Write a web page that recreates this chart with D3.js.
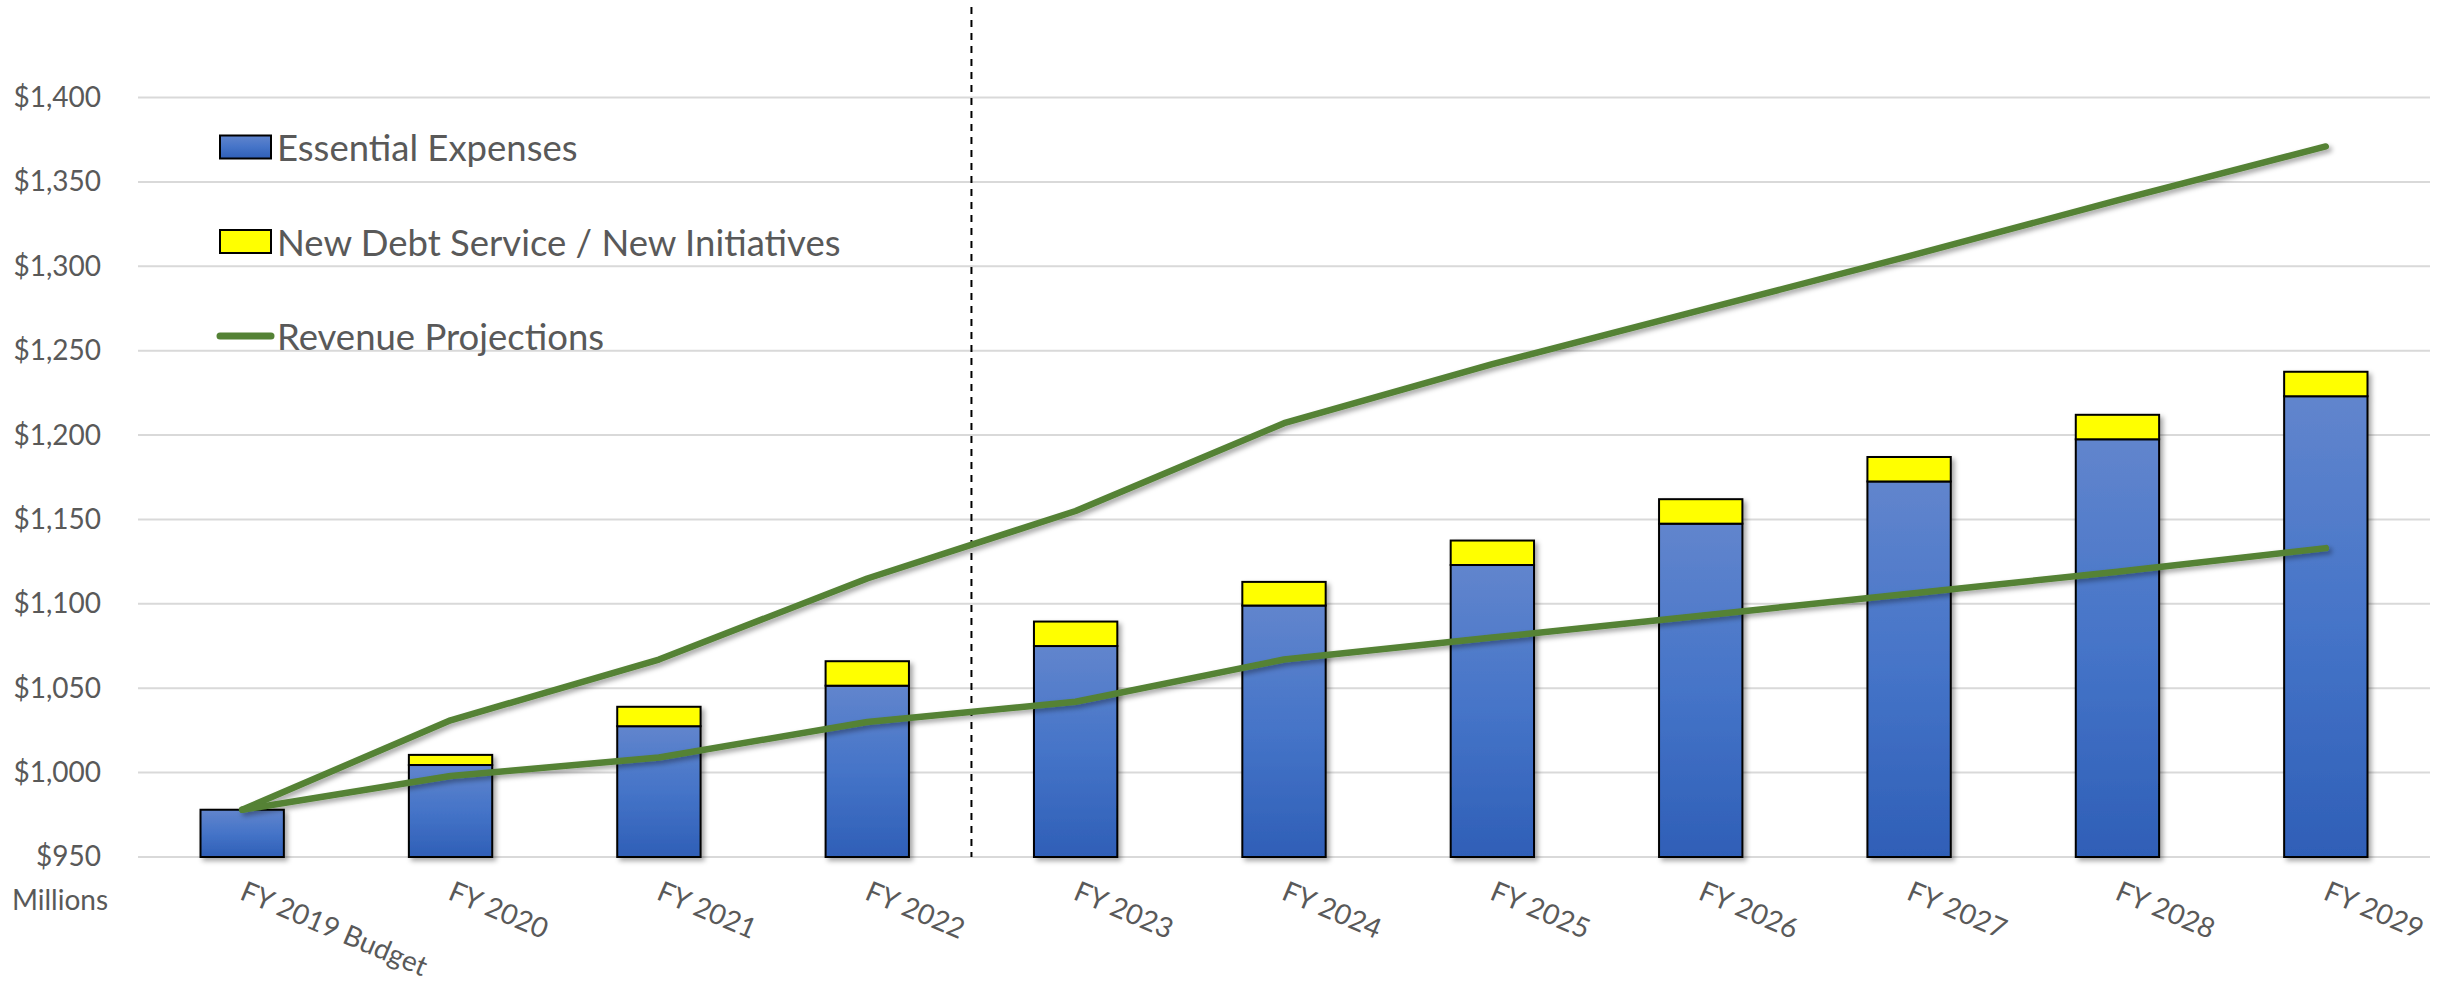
<!DOCTYPE html>
<html>
<head>
<meta charset="utf-8">
<script src="https://cdn.jsdelivr.net/npm/d3@7"></script>
<style>
  html, body { margin: 0; padding: 0; background: #ffffff; }
  svg { display: block; }
  text { font-family: Lato, "Open Sans", sans-serif; fill: #595959; }
</style>
</head>
<body>
<svg id="chart" width="2446" height="984"></svg>
<script>
// Fiscal years shown on the x axis
const categories = ["FY 2019 Budget", "FY 2020", "FY 2021", "FY 2022", "FY 2023", "FY 2024",
                    "FY 2025", "FY 2026", "FY 2027", "FY 2028", "FY 2029"];

// Stacked expense components ($ millions)
const essentialExpenses = [978, 1004.5, 1027.5, 1051.5, 1075, 1099, 1123, 1147.5, 1172.5, 1197.5, 1223];
const newDebtInitiatives = [0, 6, 11.5, 14.5, 14.5, 14, 14.5, 14.5, 14.5, 14.5, 14.5];

// Two revenue projection scenarios ($ millions)
const revenueHigh = [978, 1031, 1067, 1115, 1155, 1207, 1242, 1274, 1306, 1339, 1371];
const revenueBase = [978, 998, 1009, 1030, 1042, 1067, 1080, 1093, 1106, 1119, 1133];

// Y axis ticks
const yTicks = [950, 1000, 1050, 1100, 1150, 1200, 1250, 1300, 1350, 1400];

// Legend entries
const legendLabels = ["Essential Expenses", "New Debt Service / New Initiatives", "Revenue Projections"];

// The dashed divider sits between the last actual year and the first forecast year
const dividerAfter = "FY 2022";

const svg = d3.select("#chart");
const plot = { left: 138, right: 2430, top: 97.5, bottom: 857 };

const x = d3.scaleBand()
  .domain(categories)
  .range([plot.left, plot.right])
  .paddingInner(0.6)
  .paddingOuter(0.3);

const y = d3.scaleLinear()
  .domain([950, 1400])
  .range([plot.bottom, plot.top]);

const defs = svg.append("defs");

const grad = defs.append("linearGradient")
  .attr("id", "blueFill")
  .attr("x1", 0).attr("y1", 0).attr("x2", 0).attr("y2", 1);
grad.append("stop").attr("offset", "0%").attr("stop-color", "#6185cd");
grad.append("stop").attr("offset", "50%").attr("stop-color", "#4574c8");
grad.append("stop").attr("offset", "100%").attr("stop-color", "#2f5fb7");

const shadow = defs.append("filter")
  .attr("id", "shadow")
  .attr("x", "-20%").attr("y", "-20%").attr("width", "150%").attr("height", "150%");
shadow.append("feDropShadow")
  .attr("dx", 3).attr("dy", 3).attr("stdDeviation", 2.5)
  .attr("flood-color", "#000").attr("flood-opacity", 0.35);

// Horizontal gridlines
svg.append("g")
  .selectAll("line")
  .data(yTicks)
  .join("line")
  .attr("x1", plot.left).attr("x2", plot.right)
  .attr("y1", d => y(d)).attr("y2", d => y(d))
  .attr("stroke", "#d9d9d9")
  .attr("stroke-width", 2);

// Y axis labels
const yAxis = d3.axisLeft(y)
  .tickValues(yTicks)
  .tickSize(0)
  .tickPadding(0)
  .tickFormat(d => "$" + d3.format(",")(d));
const yAxisG = svg.append("g")
  .attr("transform", `translate(101,0)`)
  .call(yAxis);
yAxisG.select(".domain").remove();
yAxisG.selectAll("text")
  .attr("font-size", 28)
  .attr("font-family", "Lato, sans-serif")
  .attr("fill", "#595959");

svg.append("text")
  .attr("x", 12)
  .attr("y", 910)
  .attr("font-size", 28)
  .text("Millions");

// X axis labels, slanted
const xAxis = d3.axisBottom(x).tickSize(0).tickPadding(0);
const xAxisG = svg.append("g")
  .attr("transform", `translate(0,${plot.bottom})`)
  .call(xAxis);
xAxisG.select(".domain").remove();
xAxisG.selectAll(".tick text")
  .attr("font-size", 28)
  .attr("font-family", "Lato, sans-serif")
  .attr("fill", "#595959")
  .attr("text-anchor", "start")
  .attr("dominant-baseline", "hanging")
  .attr("dy", null)
  .attr("y", 0)
  .attr("transform", "translate(5,21) rotate(23)");

// Stacked bars
const bars = svg.append("g").attr("filter", "url(#shadow)");
const rows = categories.map((c, i) => ({
  cat: c,
  ess: essentialExpenses[i],
  debt: newDebtInitiatives[i]
}));

bars.selectAll("rect.ess")
  .data(rows)
  .join("rect")
  .attr("class", "ess")
  .attr("x", d => x(d.cat))
  .attr("width", x.bandwidth())
  .attr("y", d => y(d.ess))
  .attr("height", d => y(950) - y(d.ess))
  .attr("fill", "url(#blueFill)")
  .attr("stroke", "#000")
  .attr("stroke-width", 2);

bars.selectAll("rect.debt")
  .data(rows.filter(d => d.debt > 0))
  .join("rect")
  .attr("class", "debt")
  .attr("x", d => x(d.cat))
  .attr("width", x.bandwidth())
  .attr("y", d => y(d.ess + d.debt))
  .attr("height", d => y(d.ess) - y(d.ess + d.debt))
  .attr("fill", "#ffff00")
  .attr("stroke", "#000")
  .attr("stroke-width", 2);

// Dashed divider between actuals and forecast
const divX = (x(dividerAfter) + x.bandwidth() + x(categories[categories.indexOf(dividerAfter) + 1])) / 2;
svg.append("line")
  .attr("x1", divX).attr("x2", divX)
  .attr("y1", 7).attr("y2", plot.bottom)
  .attr("stroke", "#000")
  .attr("stroke-width", 2)
  .attr("stroke-dasharray", "7,6");

// Revenue projection lines
const line = d3.line()
  .x((d, i) => x(categories[i]) + x.bandwidth() / 2)
  .y(d => y(d));

svg.append("g")
  .attr("filter", "url(#shadow)")
  .selectAll("path")
  .data([revenueHigh, revenueBase])
  .join("path")
  .attr("d", line)
  .attr("fill", "none")
  .attr("stroke", "#548235")
  .attr("stroke-width", 6.5)
  .attr("stroke-linejoin", "round")
  .attr("stroke-linecap", "round");

// Legend
const legend = svg.append("g");
const legendY = [147, 241.5, 336];
const legendKinds = ["blue", "yellow", "line"];

legendKinds.forEach((kind, i) => {
  const cy = legendY[i];
  if (kind === "line") {
    legend.append("line")
      .attr("x1", 220).attr("x2", 271)
      .attr("y1", cy).attr("y2", cy)
      .attr("stroke", "#548235")
      .attr("stroke-width", 7)
      .attr("stroke-linecap", "round");
  } else {
    legend.append("rect")
      .attr("x", 220).attr("y", cy - 11.5)
      .attr("width", 51).attr("height", 23)
      .attr("fill", kind === "blue" ? "url(#blueFill)" : "#ffff00")
      .attr("stroke", "#000")
      .attr("stroke-width", 2);
  }
  legend.append("text")
    .attr("x", 277)
    .attr("y", cy)
    .attr("dominant-baseline", "central")
    .attr("font-size", 36.5)
    .text(legendLabels[i]);
});
</script>
</body>
</html>
